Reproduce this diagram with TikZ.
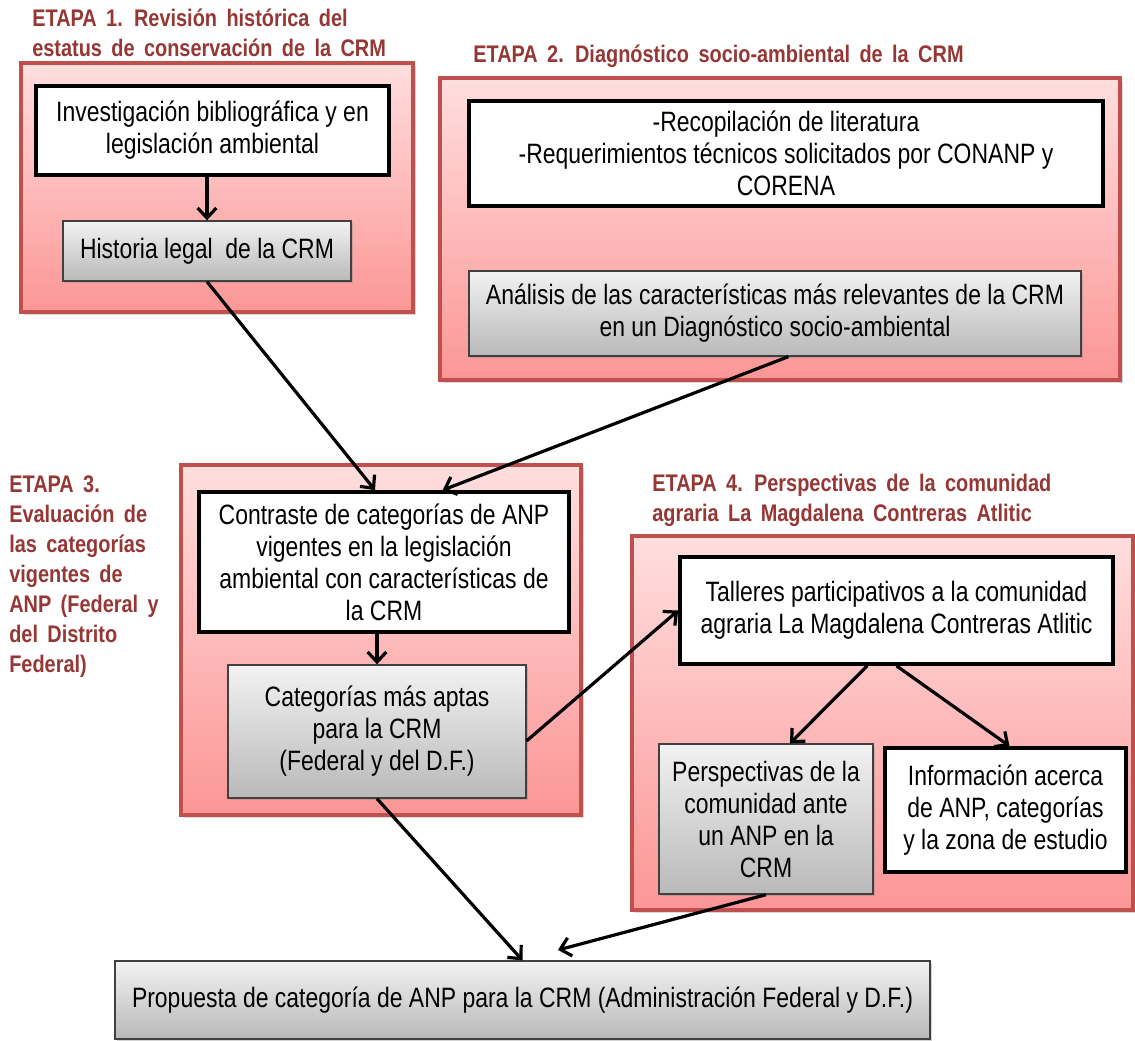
\documentclass[tikz,border=0pt]{standalone}
\usepackage{fontspec}
\setmainfont{Liberation Sans}
\newfontfamily\bodyfont[FakeStretch=0.82]{Liberation Sans}
\newfontfamily\titlefont[FakeStretch=0.83,WordSpace=1.7]{Liberation Sans}
\usetikzlibrary{arrows.meta,shadows,calc}
\newdimen\pxu \pxu=0.75pt
\newcommand\bodytext{\bodyfont\fontsize{21}{24}\selectfont}
\newcommand\titletext{\titlefont\bfseries\fontsize{18}{22.5}\selectfont}
\definecolor{titlered}{HTML}{953735}
\definecolor{pinkline}{HTML}{C0504D}
\definecolor{pinktop}{RGB}{255,222,222}
\definecolor{pinkbot}{RGB}{252,150,150}
\definecolor{graytop}{RGB}{242,242,242}
\definecolor{graybot}{RGB}{185,185,185}
\begin{document}
\begin{tikzpicture}[x=0.75pt,y=-0.75pt,
  stage/.style={draw=pinkline, line width=2.4pt, top color=pinktop, bottom color=pinkbot,
    drop shadow={opacity=0.3,shadow xshift=2pt,shadow yshift=-2.5pt}, inner sep=0pt},
  whitebox/.style={draw=black, line width=2.8pt, fill=white, align=center, font=\bodytext, inner sep=0pt},
  graybox/.style={draw=black!75, line width=1pt, top color=graytop, bottom color=graybot,
    drop shadow={opacity=0.35,shadow xshift=1.5pt,shadow yshift=-1.5pt}, align=center, font=\bodytext, inner sep=0pt},
  stagetitle/.style={text=titlered, font=\titletext, align=left, anchor=west, inner sep=0pt},
  conn/.style={line width=2.4pt, -{Straight Barb[length=7.5pt,width=14pt,line width=2.4pt]}}
]
\useasboundingbox (0,0) rectangle (1135,1041);

% stage containers
\node[stage, minimum width=392*\pxu, minimum height=249*\pxu] (p1) at (217,187.5) {};
\node[stage, minimum width=680*\pxu, minimum height=302*\pxu] (p2) at (780,229) {};
\node[stage, minimum width=400*\pxu, minimum height=350*\pxu] (p3) at (381,640) {};
\node[stage, minimum width=501*\pxu, minimum height=374*\pxu] (p4) at (882.5,723) {};

% titles
\node[stagetitle] (t1) at (32,33) {ETAPA 1. Revisión histórica del\\estatus de conservación de la CRM};
\node[stagetitle] (t2) at (473,56) {ETAPA 2. Diagnóstico socio-ambiental de la CRM};
\node[stagetitle] (t3) at (9,577) {ETAPA 3.\\Evaluación de\\las categorías\\vigentes de\\ANP (Federal y\\del Distrito\\Federal)};
\node[stagetitle] (t4) at (652,500) {ETAPA 4. Perspectivas de la comunidad\\agraria La Magdalena Contreras Atlitic};

% stage 1
\node[whitebox, minimum width=353*\pxu, minimum height=89*\pxu] (w1) at (212.5,130.5)
  {Investigación bibliográfica y en\\legislación ambiental};
\node[graybox, minimum width=288*\pxu, minimum height=60*\pxu] (g1) at (207,251)
  {Historia legal\ \ de la CRM};

% stage 2
\node[whitebox, minimum width=634*\pxu, minimum height=105*\pxu] (w2) at (786,153.5)
  {-Recopilación de literatura\\-Requerimientos técnicos solicitados por CONANP y\\CORENA};
\node[graybox, minimum width=612*\pxu, minimum height=85*\pxu] (g2) at (775,313.5)
  {Análisis de las características más relevantes de la CRM\\en un Diagnóstico socio-ambiental};

% stage 3
\node[whitebox, minimum width=370*\pxu, minimum height=140*\pxu] (w3) at (384,562)
  {Contraste de categorías de ANP\\vigentes en la legislación\\ambiental con características de\\la CRM};
\node[graybox, minimum width=298*\pxu, minimum height=133*\pxu] (g3) at (377,731.5)
  {Categorías más aptas\\para la CRM\\(Federal y del D.F.)};

% stage 4
\node[whitebox, minimum width=433*\pxu, minimum height=107*\pxu] (w4) at (896.5,610.5)
  {Talleres participativos a la comunidad\\agraria La Magdalena Contreras Atlitic};
\node[graybox, minimum width=214*\pxu, minimum height=150*\pxu] (g4) at (766,819)
  {Perspectivas de la\\comunidad ante\\un ANP en la\\CRM};
\node[whitebox, minimum width=241*\pxu, minimum height=124*\pxu] (w5) at (1005.5,810)
  {Información acerca\\de ANP, categorías\\y la zona de estudio};

% result
\node[graybox, minimum width=815*\pxu, minimum height=78*\pxu] (gb) at (522.5,1000)
  {Propuesta de categoría de ANP para la CRM (Administración Federal y D.F.)};
\coordinate (tip9) at (558,950);

% connectors
\draw[conn] (w1.south -| g1.north) -- (g1.north);
\draw[conn] (g1.south) -- ([xshift=-6.75pt]w3.north);
\draw[conn] ([xshift=10pt]g2.south) -- ([xshift=44pt]w3.north);
\draw[conn] (w3.south -| g3.north) -- (g3.north);
\draw[conn] ([yshift=-7pt]g3.east) -- (w4.west);
\draw[conn] ([xshift=-22pt]w4.south) -- ([xshift=18pt]g4.north);
\draw[conn] (w4.south) -- ([xshift=3pt]w5.north);
\draw[conn] (g3.south) -- (gb.north);
\draw[conn] (g4.south) -- (tip9);
\end{tikzpicture}
\end{document}
